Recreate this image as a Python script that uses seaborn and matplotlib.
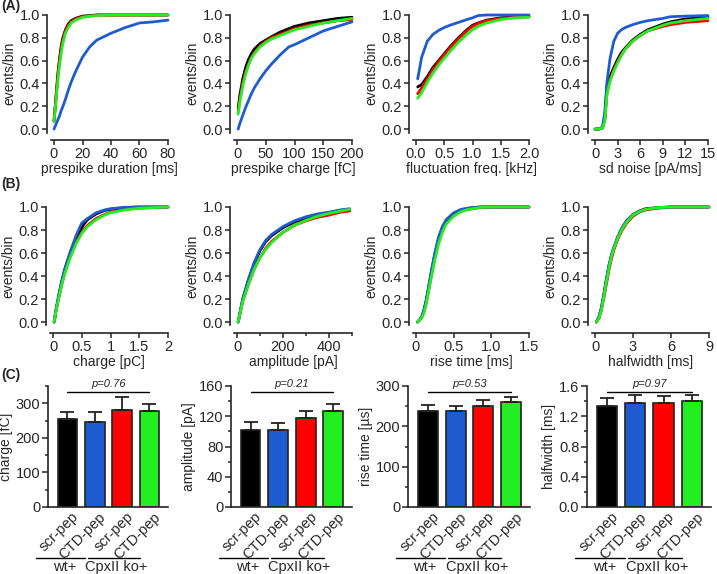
import numpy as np
import pandas as pd
import matplotlib
matplotlib.use('Agg')
import matplotlib.pyplot as plt
import matplotlib.transforms as mtransforms
from matplotlib.ticker import MultipleLocator, FormatStrFormatter
import seaborn as sns

sns.set_style('ticks')
plt.rcParams['font.family'] = ['Liberation Sans', 'DejaVu Sans']
plt.rcParams['font.size'] = 8.5

# --- colours / groups ---
groups = ['wt scr', 'wt CTD', 'ko scr', 'ko CTD']
group_colors = ['#000000', '#1f5bd0', '#ff0000', '#22ee22']
draw_order = [0, 2, 1, 3]

# --- (A) cumulative distributions ---
a1_x = [0, 1, 2, 3, 4, 5, 6, 8, 10, 12, 15, 20, 25, 30, 40, 50, 60, 70, 80]
a1_black = [0.07, 0.22, 0.38, 0.52, 0.63, 0.72, 0.79, 0.87, 0.92, 0.95, 0.97, 0.99, 0.995, 1, 1, 1, 1, 1, 1]
a1_blue = [0.0, 0.03, 0.06, 0.09, 0.12, 0.16, 0.19, 0.26, 0.34, 0.41, 0.50, 0.63, 0.72, 0.78, 0.84, 0.89, 0.93, 0.94, 0.955]
a1_red = [0.07, 0.21, 0.36, 0.50, 0.61, 0.70, 0.77, 0.86, 0.91, 0.94, 0.965, 0.985, 0.99, 1, 1, 1, 1, 1, 1]
a1_green = [0.07, 0.19, 0.33, 0.46, 0.57, 0.66, 0.74, 0.84, 0.89, 0.93, 0.955, 0.98, 0.99, 0.995, 1, 1, 1, 1, 1]

a2_x = [2, 5, 10, 15, 20, 25, 30, 40, 50, 60, 75, 90, 100, 125, 150, 175, 200]
a2_black = [0.18, 0.30, 0.44, 0.54, 0.61, 0.66, 0.70, 0.75, 0.78, 0.81, 0.85, 0.88, 0.90, 0.93, 0.95, 0.97, 0.98]
a2_blue = [0.0, 0.05, 0.12, 0.19, 0.25, 0.31, 0.36, 0.44, 0.51, 0.57, 0.65, 0.72, 0.74, 0.80, 0.86, 0.90, 0.94]
a2_red = [0.15, 0.26, 0.40, 0.50, 0.57, 0.63, 0.67, 0.73, 0.77, 0.80, 0.83, 0.86, 0.88, 0.91, 0.93, 0.95, 0.96]
a2_green = [0.13, 0.24, 0.38, 0.48, 0.56, 0.62, 0.66, 0.72, 0.76, 0.79, 0.82, 0.85, 0.87, 0.90, 0.93, 0.95, 0.97]

a3_x = [0.03, 0.1, 0.2, 0.3, 0.4, 0.5, 0.6, 0.75, 0.9, 1.0, 1.1, 1.25, 1.5, 1.75, 2.0]
a3_black = [0.37, 0.39, 0.46, 0.54, 0.60, 0.66, 0.72, 0.80, 0.87, 0.91, 0.93, 0.955, 0.975, 0.985, 0.99]
a3_blue = [0.44, 0.63, 0.77, 0.83, 0.865, 0.89, 0.91, 0.935, 0.96, 0.975, 0.995, 1.0, 1.0, 1.0, 1.0]
a3_red = [0.31, 0.36, 0.44, 0.52, 0.59, 0.65, 0.71, 0.79, 0.86, 0.90, 0.925, 0.95, 0.97, 0.98, 0.985]
a3_green = [0.27, 0.32, 0.41, 0.49, 0.56, 0.62, 0.68, 0.76, 0.83, 0.87, 0.90, 0.93, 0.96, 0.975, 0.98]

a4_x = [0, 0.5, 1.0, 1.3, 1.6, 2.0, 2.5, 3.0, 3.5, 4, 5, 6, 7, 8, 9, 10, 12, 15]
a4_black = [0, 0, 0.01, 0.10, 0.38, 0.46, 0.54, 0.61, 0.67, 0.71, 0.78, 0.83, 0.87, 0.895, 0.92, 0.94, 0.965, 0.98]
a4_blue = [0, 0, 0.02, 0.15, 0.42, 0.62, 0.77, 0.84, 0.87, 0.89, 0.915, 0.935, 0.95, 0.96, 0.97, 0.985, 0.99, 0.995]
a4_red = [0, 0, 0.01, 0.08, 0.33, 0.43, 0.52, 0.59, 0.65, 0.70, 0.77, 0.82, 0.86, 0.88, 0.90, 0.915, 0.935, 0.95]
a4_green = [0, 0, 0.01, 0.07, 0.31, 0.42, 0.51, 0.58, 0.645, 0.70, 0.77, 0.82, 0.86, 0.885, 0.91, 0.93, 0.95, 0.97]

# --- (B) cumulative distributions ---
b1_x = [0.02, 0.05, 0.1, 0.15, 0.2, 0.25, 0.3, 0.4, 0.5, 0.55, 0.6, 0.75, 0.9, 1.0, 1.25, 1.5, 2.0]
b1_black = [0, 0.10, 0.23, 0.35, 0.45, 0.53, 0.60, 0.73, 0.82, 0.86, 0.89, 0.94, 0.97, 0.98, 0.995, 1, 1]
b1_blue = [0, 0.10, 0.23, 0.35, 0.45, 0.53, 0.61, 0.75, 0.86, 0.88, 0.90, 0.95, 0.975, 0.985, 0.997, 1, 1]
b1_red = [0, 0.09, 0.21, 0.32, 0.42, 0.50, 0.57, 0.69, 0.78, 0.81, 0.84, 0.90, 0.935, 0.955, 0.98, 0.99, 1]
b1_green = [0, 0.09, 0.21, 0.32, 0.41, 0.49, 0.56, 0.68, 0.77, 0.80, 0.83, 0.89, 0.93, 0.95, 0.975, 0.99, 1]

b2_x = [5, 25, 50, 75, 100, 125, 150, 200, 250, 300, 350, 400, 450, 490]
b2_black = [0, 0.20, 0.37, 0.51, 0.62, 0.70, 0.75, 0.82, 0.87, 0.90, 0.93, 0.95, 0.97, 0.98]
b2_blue = [0, 0.20, 0.37, 0.52, 0.63, 0.71, 0.76, 0.83, 0.88, 0.915, 0.94, 0.955, 0.975, 0.985]
b2_red = [0, 0.18, 0.33, 0.46, 0.56, 0.64, 0.70, 0.78, 0.84, 0.88, 0.91, 0.93, 0.955, 0.965]
b2_green = [0, 0.18, 0.33, 0.46, 0.56, 0.63, 0.69, 0.78, 0.84, 0.885, 0.92, 0.945, 0.965, 0.98]

b3_x = [0.02, 0.05, 0.08, 0.1, 0.13, 0.16, 0.2, 0.25, 0.3, 0.35, 0.4, 0.5, 0.6, 0.7, 0.85, 1.0, 1.5]
b3_black = [0, 0.02, 0.05, 0.09, 0.17, 0.27, 0.42, 0.59, 0.72, 0.82, 0.88, 0.94, 0.975, 0.99, 1, 1, 1]
b3_blue = [0, 0.02, 0.05, 0.09, 0.17, 0.28, 0.43, 0.60, 0.74, 0.83, 0.89, 0.95, 0.98, 0.99, 1, 1, 1]
b3_red = [0, 0.02, 0.05, 0.08, 0.15, 0.25, 0.39, 0.56, 0.70, 0.80, 0.87, 0.93, 0.965, 0.98, 0.995, 1, 1]
b3_green = [0, 0.02, 0.04, 0.07, 0.14, 0.24, 0.38, 0.54, 0.68, 0.78, 0.85, 0.92, 0.96, 0.98, 0.995, 1, 1]

b4_x = [0.1, 0.3, 0.5, 0.7, 0.9, 1.1, 1.3, 1.5, 1.8, 2.1, 2.5, 3.0, 3.5, 4.0, 5.0, 6.0, 9.0]
b4_black = [0, 0.04, 0.12, 0.24, 0.37, 0.49, 0.58, 0.65, 0.74, 0.81, 0.88, 0.935, 0.965, 0.985, 0.995, 1, 1]
b4_blue = [0, 0.04, 0.12, 0.24, 0.37, 0.49, 0.58, 0.65, 0.74, 0.81, 0.88, 0.93, 0.96, 0.98, 0.995, 1, 1]
b4_red = [0, 0.03, 0.10, 0.21, 0.33, 0.45, 0.55, 0.63, 0.72, 0.79, 0.86, 0.92, 0.955, 0.975, 0.99, 1, 1]
b4_green = [0, 0.03, 0.10, 0.22, 0.35, 0.47, 0.57, 0.64, 0.73, 0.80, 0.87, 0.93, 0.96, 0.98, 0.995, 1, 1]

# --- (C) bar charts: means and SEM ---
charge_mean = [254, 247, 281, 279]
charge_sem = [22, 27, 36, 20]
amp_mean = [102, 102, 117.5, 127]
amp_sem = [10, 9, 9.5, 9.5]
rise_mean = [239, 239, 250, 260]
rise_sem = [14, 11, 15, 12]
hw_mean = [1.335, 1.38, 1.375, 1.40]
hw_sem = [0.10, 0.10, 0.09, 0.08]
bar_ticklabels = ['scr-pep', 'CTD-pep', 'scr-pep', 'CTD-pep']

W, H = 717, 574
fig = plt.figure(figsize=(W / 100, H / 100), dpi=100)


def px_axes(left, right, top, bottom):
    return fig.add_axes([left / W, 1 - bottom / H, (right - left) / W, (bottom - top) / H])


def cdf_panel(x0px, x1px, top, bottom, xs, curves, xmax, xticks, xticklabels, xlabel):
    pad = 0.025 * (x1px - x0px)
    ax = px_axes(x0px - pad, x1px, top, bottom)
    for i in draw_order:
        sns.lineplot(x=xs, y=curves[i], color=group_colors[i], linewidth=2,
                     estimator=None, ax=ax, clip_on=False)
    ax.set_xlim(-0.025 * xmax, xmax)
    ax.set_ylim(-0.03, 1.0)
    ax.set_xticks(xticks)
    ax.set_xticklabels(xticklabels)
    ax.set_yticks([0, 0.2, 0.4, 0.6, 0.8, 1.0])
    ax.yaxis.set_major_formatter(FormatStrFormatter('%.1f'))
    sns.despine(ax=ax)
    ax.spines['left'].set_position(('outward', 3))
    ax.spines['bottom'].set_position(('outward', 5.5))
    for s in ['left', 'bottom']:
        ax.spines[s].set_linewidth(1.2)
    ax.tick_params(direction='out', length=3.5, width=1.1, pad=1.5, labelsize=10.5)
    ax.set_xlabel(xlabel, fontsize=10, labelpad=1)
    ax.set_ylabel('events/bin', fontsize=10, labelpad=2)
    return ax


rowA = (15, 132.5)
rowB = (207, 325.5)

cdf_panel(54, 168, *rowA, a1_x, [a1_black, a1_blue, a1_red, a1_green], 80,
          [0, 20, 40, 60, 80], ['0', '20', '40', '60', '80'], 'prespike duration [ms]')
cdf_panel(237, 352, *rowA, a2_x, [a2_black, a2_blue, a2_red, a2_green], 200,
          [0, 50, 100, 150, 200], ['0', '50', '100', '150', '200'], 'prespike charge [fC]')
cdf_panel(416, 529, *rowA, a3_x, [a3_black, a3_blue, a3_red, a3_green], 2.0,
          [0, 0.5, 1.0, 1.5, 2.0], ['0.0', '0.5', '1.0', '1.5', '2.0'], 'fluctuation freq. [kHz]')
cdf_panel(595, 708, *rowA, a4_x, [a4_black, a4_blue, a4_red, a4_green], 15,
          [0, 3, 6, 9, 12, 15], ['0', '3', '6', '9', '12', '15'], 'sd noise [pA/ms]')

cdf_panel(53, 168, *rowB, b1_x, [b1_black, b1_blue, b1_red, b1_green], 2.0,
          [0, 0.5, 1, 1.5, 2], ['0', '0.5', '1', '1.5', '2'], 'charge [pC]')
axb2 = cdf_panel(237, 352, *rowB, b2_x, [b2_black, b2_blue, b2_red, b2_green], 500,
                 [0, 200, 400], ['0', '200', '400'], 'amplitude [pA]')
axb2.xaxis.set_minor_locator(MultipleLocator(100))
axb2.tick_params(axis='x', which='minor', length=2.5, width=1.1)
cdf_panel(416, 529, *rowB, b3_x, [b3_black, b3_blue, b3_red, b3_green], 1.5,
          [0, 0.5, 1.0, 1.5], ['0', '0.5', '1.0', '1.5'], 'rise time [ms]')
cdf_panel(595, 709, *rowB, b4_x, [b4_black, b4_blue, b4_red, b4_green], 9,
          [0, 3, 6, 9], ['0', '3', '6', '9'], 'halfwidth [ms]')


def bar_panel(left, right, means, sems, ymax, major, minor, fmt, ylabel, ptext):
    ax = px_axes(left, right, 386, 507)
    sns.barplot(x=groups, y=means, hue=groups, palette=group_colors, legend=False,
                saturation=1, width=0.72, edgecolor='#222222', linewidth=1.2,
                errorbar=None, ax=ax)
    ax.errorbar(range(4), means, yerr=[np.zeros(4), sems], fmt='none', ecolor='#222222',
                elinewidth=1.3, capsize=5, capthick=1.3, zorder=1)
    ax.set_xlim(-0.71, 3.68)
    ax.set_ylim(0, ymax)
    ax.yaxis.set_major_locator(MultipleLocator(major))
    ax.yaxis.set_minor_locator(MultipleLocator(minor))
    ax.yaxis.set_major_formatter(FormatStrFormatter(fmt))
    sns.despine(ax=ax)
    for s in ['left', 'bottom']:
        ax.spines[s].set_linewidth(1.2)
    ax.tick_params(axis='y', which='major', direction='out', length=4, width=1.1, pad=1.5, labelsize=10.5)
    ax.tick_params(axis='y', which='minor', direction='out', length=2.5, width=1.1)
    ax.tick_params(axis='x', length=0, pad=2, labelsize=10.5)
    ax.set_xlabel('')
    ax.set_ylabel(ylabel, fontsize=10, labelpad=2)
    ax.set_xticks(range(4))
    ax.set_xticklabels(bar_ticklabels, rotation=45, ha='right', va='center',
                       rotation_mode='anchor')
    shift = mtransforms.ScaledTranslation(0.09, -0.05, fig.dpi_scale_trans)
    for lab in ax.get_xticklabels():
        lab.set_transform(lab.get_transform() + shift)
    trans = mtransforms.blended_transform_factory(ax.transData, ax.transAxes)
    ax.plot([0, 3], [0.95, 0.95], color='black', lw=1, transform=trans, clip_on=False)
    ax.text(1.5, 0.975, ptext, transform=trans, ha='center', va='bottom',
            fontsize=8, style='italic')
    ax.plot([-1.15, 0.63], [-0.42, -0.42], color='black', lw=1, transform=trans, clip_on=False)
    ax.plot([0.74, 2.65], [-0.42, -0.42], color='black', lw=1, transform=trans, clip_on=False)
    ax.text(-0.1, -0.44, 'wt+', transform=trans, ha='center', va='top', fontsize=10.5)
    ax.text(1.77, -0.44, 'CpxII ko+', transform=trans, ha='center', va='top', fontsize=10.5)
    return ax


bar_panel(48, 168, charge_mean, charge_sem, 350, 100, 50, '%d', 'charge [fC]', 'p=0.76')
bar_panel(231, 352, amp_mean, amp_sem, 160, 40, 20, '%d', 'amplitude [pA]', 'p=0.21')
bar_panel(408, 530, rise_mean, rise_sem, 300, 100, 50, '%d', 'rise time [µs]', 'p=0.53')
bar_panel(587, 711, hw_mean, hw_sem, 1.6, 0.4, 0.2, '%.1f', 'halfwidth [ms]', 'p=0.97')

# panel letters
fig.text(1 / W, 1 - 6 / H, '(A)', fontsize=10, fontweight='bold', va='center')
fig.text(1 / W, 1 - 184 / H, '(B)', fontsize=10, fontweight='bold', va='center')
fig.text(1 / W, 1 - 375 / H, '(C)', fontsize=10, fontweight='bold', va='center')

fig.savefig('out.png', dpi=100)
